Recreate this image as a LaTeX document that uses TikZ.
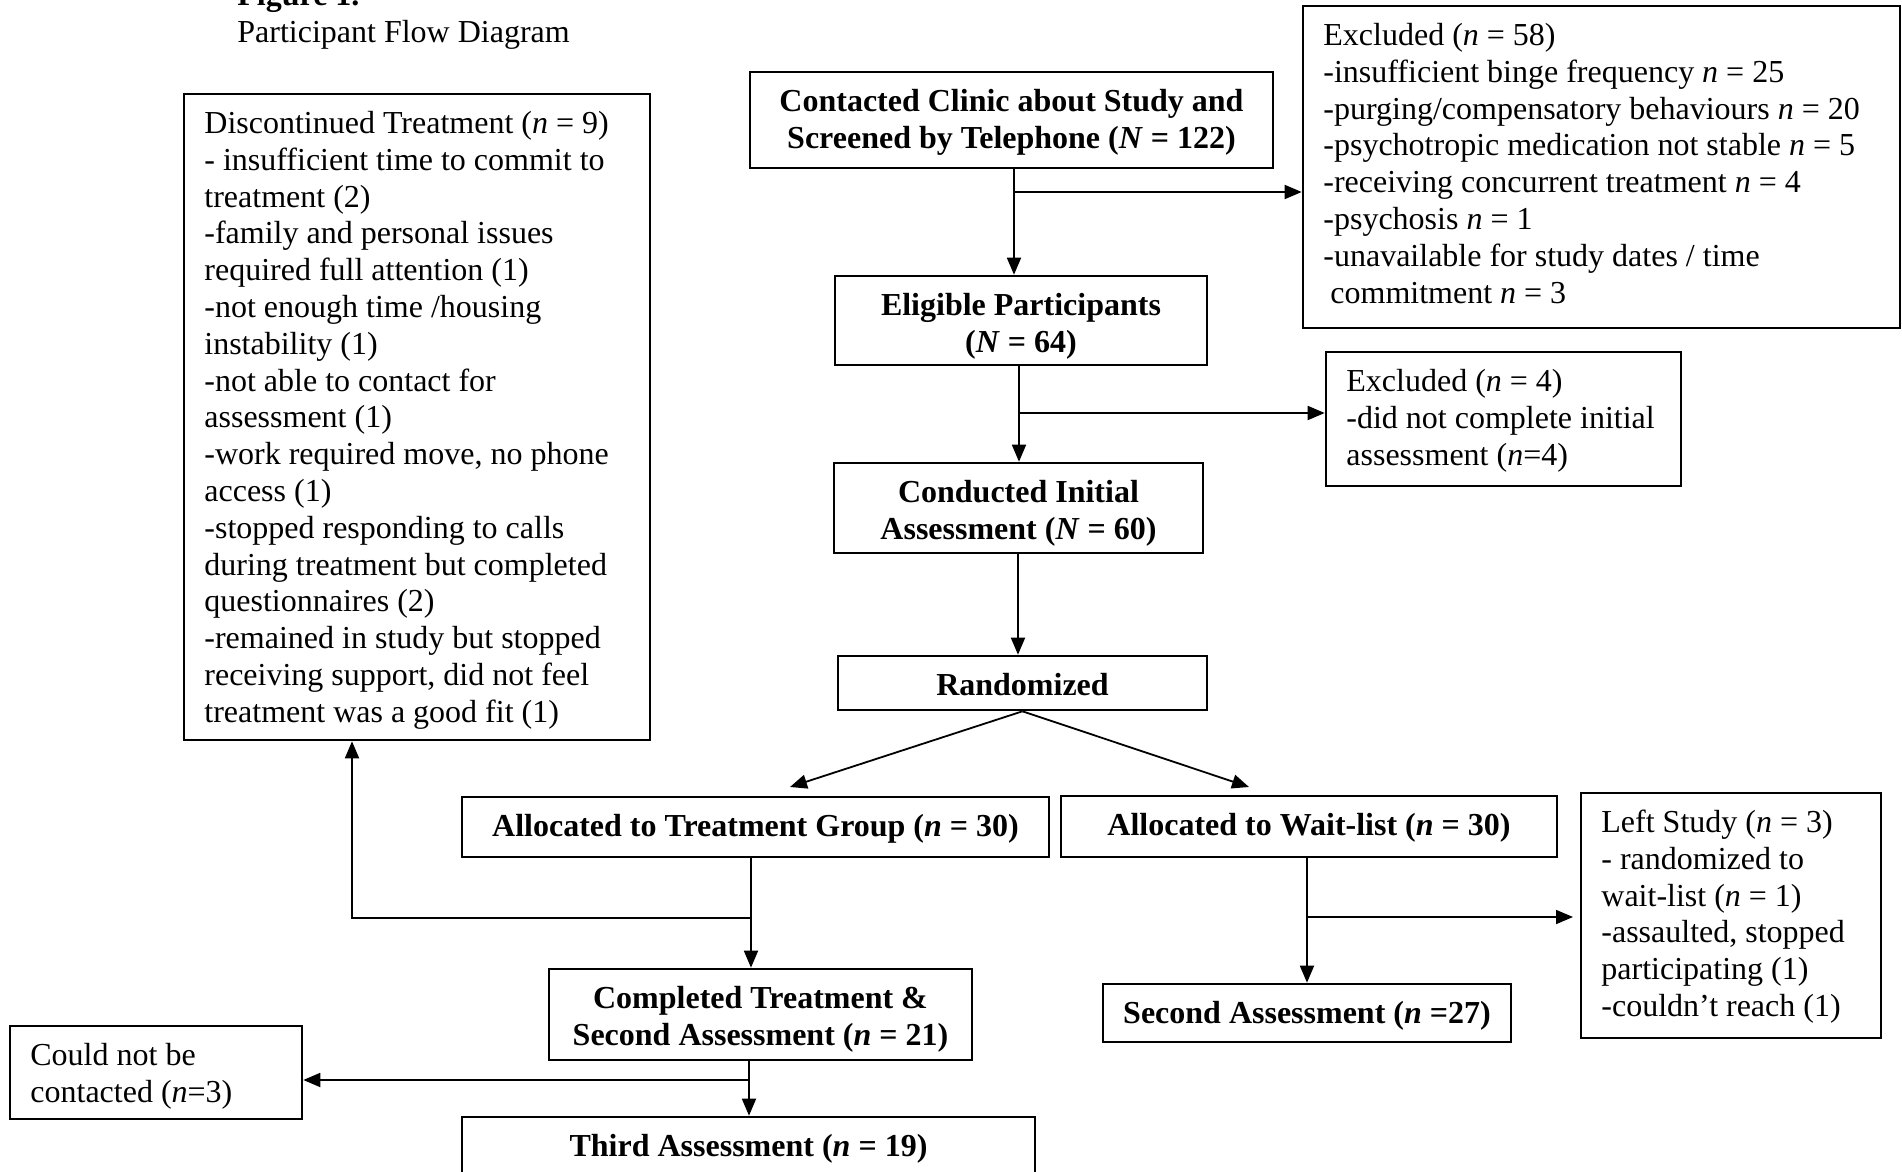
\documentclass[tikz,border=0pt]{standalone}
\usepackage{fontspec}
\setmainfont{Liberation Serif}
\usetikzlibrary{arrows.meta,fit}
\begin{document}
\begin{tikzpicture}[x=0.5pt,y=-0.5pt,
  box/.style={draw, line width=1.3pt, inner sep=0pt},
  arr/.style={line width=0.9pt, -{Triangle[length=8.5pt,width=7pt]}},
  bt/.style={font=\fontsize{16}{18.4}\selectfont\bfseries, align=center, anchor=base, inner sep=0pt},
  lt/.style={font=\fontsize{16}{18.4}\selectfont, align=left, anchor=base west, inner sep=0pt}]
\useasboundingbox (0,0) rectangle (1902,1172);
\clip (0,0) rectangle (1902,1172);
\fill[white] (0,0) rectangle (1902,1172);

% title
\node[lt, font=\fontsize{16}{18.4}\selectfont\bfseries] (fig) at (237,6) {Figure 1.};
\node[lt] (subtitle) at (237,43) {Participant Flow Diagram};

% boxes
\node[box, fit={(750,72)(1273,168)}] (contacted) {};
\node[box, fit={(1303,6)(1900,328)}] (excl58) {};
\node[box, fit={(835,276)(1207,365)}] (eligible) {};
\node[box, fit={(1326,352)(1681,486)}] (excl4) {};
\node[box, fit={(834,463)(1203,553)}] (conducted) {};
\node[box, fit={(838,656)(1207,710)}] (randomized) {};
\node[box, fit={(462,797)(1049,857)}] (alloctreat) {};
\node[box, fit={(1061,796)(1557,857)}] (allocwait) {};
\node[box, fit={(184,94)(650,740)}] (discontinued) {};
\node[box, fit={(1581,793)(1881,1038)}] (leftstudy) {};
\node[box, fit={(1103,984)(1511,1042)}] (second) {};
\node[box, fit={(549,969)(972,1060)}] (completed) {};
\node[box, fit={(10,1026)(302,1119)}] (couldnot) {};
\node[box, fit={(462,1117)(1035,1177)}] (third) {};

% bold centred texts (anchor = baseline of last line)
\node[bt] (contactedT) at (1011.5,148.3) {Contacted Clinic about Study and\\Screened by Telephone (\textit{N} = 122)};
\node[bt] (eligibleT) at (1021,352.3) {Eligible Participants\\(\textit{N} = 64)};
\node[bt] (conductedT) at (1018.5,539.3) {Conducted Initial\\Assessment (\textit{N} = 60)};
\node[bt] (randomizedT) at (1022.5,695.5) {Randomized};
\node[bt] (alloctreatT) at (755.5,836.5) {Allocated to Treatment Group (\textit{n} = 30)};
\node[bt] (allocwaitT) at (1309,835.5) {Allocated to Wait-list (\textit{n} = 30)};
\node[bt] (completedT) at (760.5,1045.3) {Completed Treatment \&\\Second Assessment (\textit{n} = 21)};
\node[bt] (secondT) at (1307,1023.5) {Second Assessment (\textit{n} =27)};
\node[bt] (thirdT) at (748.5,1156.5) {Third Assessment (\textit{n} = 19)};

% left-aligned texts (anchor = baseline of last line)
\node[lt] (excl58T) at (1323,303.1) {Excluded (\textit{n} = 58)\\
-insufficient binge frequency \textit{n} = 25\\
-purging/compensatory behaviours \textit{n} = 20\\
-psychotropic medication not stable \textit{n} = 5\\
-receiving concurrent treatment \textit{n} = 4\\
-psychosis \textit{n} = 1\\
-unavailable for study dates / time\\
\hspace*{3.5pt}commitment \textit{n} = 3};
\node[lt] (excl4T) at (1346,465.1) {Excluded (\textit{n} = 4)\\
-did not complete initial\\
assessment (\textit{n}=4)};
\node[lt] (discontinuedT) at (204,722.3) {Discontinued Treatment (\textit{n} = 9)\\
- insufficient time to commit to\\
treatment (2)\\
-family and personal issues\\
required full attention (1)\\
-not enough time /housing\\
instability (1)\\
-not able to contact for\\
assessment (1)\\
-work required move, no phone\\
access (1)\\
-stopped responding to calls\\
during treatment but completed\\
questionnaires (2)\\
-remained in study but stopped\\
receiving support, did not feel\\
treatment was a good fit (1)};
\node[lt] (leftstudyT) at (1601,1016.5) {Left Study (\textit{n} = 3)\\
- randomized to\\
wait-list (\textit{n} = 1)\\
-assaulted, stopped\\
participating (1)\\
-couldn’t reach (1)};
\node[lt] (couldnotT) at (30,1102.3) {Could not be\\contacted (\textit{n}=3)};

% connectors
\coordinate (j1) at (1014,192);
\draw[arr] (j1 |- contacted.south) -- (j1 |- eligible.north);
\draw[arr] (j1) -- (j1 -| excl58.west);

\coordinate (j2) at (1019,413);
\draw[arr] (j2 |- eligible.south) -- (j2 |- conducted.north);
\draw[arr] (j2) -- (j2 -| excl4.west);

\coordinate (j3) at (1018,600);
\draw[arr] (j3 |- conducted.south) -- (j3 |- randomized.north);

\coordinate (ta) at (790,787);
\coordinate (tb) at (1249,787);
\draw[arr] (randomized.south) -- (ta);
\draw[arr] (randomized.south) -- (tb);

\coordinate (j4) at (751,918);
\coordinate (j4b) at (352,918);
\draw[arr] (j4 |- alloctreat.south) -- (j4 |- completed.north);
\draw[arr] (j4) -- (j4b) -- (j4b |- discontinued.south);

\coordinate (j5) at (1307,917);
\coordinate (ls) at (1573,917);
\draw[arr] (j5 |- allocwait.south) -- (j5 |- second.north);
\draw[arr] (j5) -- (ls);

\coordinate (j6) at (749,1080);
\draw[arr] (j6 |- completed.south) -- (j6 |- third.north);
\draw[arr] (j6) -- (j6 -| couldnot.east);
\end{tikzpicture}
\end{document}
